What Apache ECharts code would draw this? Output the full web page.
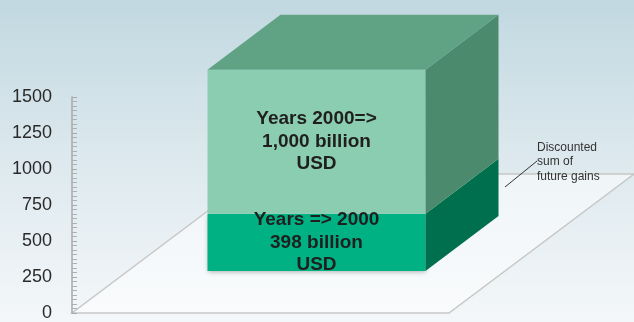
<!DOCTYPE html>
<html>
<head>
<meta charset="utf-8">
<script src="https://cdn.jsdelivr.net/npm/echarts@6/dist/echarts.min.js"></script>
<style>
  html, body { margin: 0; padding: 0; }
  #chart { width: 634px; height: 322px; }
</style>
</head>
<body>
<div id="chart"></div>
<script>
// ---- data ----
const categories = ['Gains'];
const segmentNames = ['Years => 2000', 'Years 2000=>'];
const segmentValues = [398, 1000];
const segmentLabels = ['Years => 2000\n398 billion\nUSD', 'Years 2000=>\n1,000 billion\nUSD'];
const axisMin = 0;
const axisMax = 1500;
const axisInterval = 250;
const noteText = 'Discounted\nsum of\nfuture gains';

// stacked segments: [category, start, end, segment index]
let running = 0;
const boxData = segmentValues.map((v, i) => {
  const start = running;
  running += v;
  return [0, start, running, i];
});

// ---- 3D look ----
const FLOOR_DEPTH = [185, -139];
const BOX_DEPTH = [73, -55];
const BOX_HALF = 109;
const BOX_SHIFT = [(FLOOR_DEPTH[0] - BOX_DEPTH[0]) / 2, (FLOOR_DEPTH[1] - BOX_DEPTH[1]) / 2];

const faceColors = [
  { front: '#00b283', side: '#006f4d', top: '#2f9e78' },
  { front: '#8bcdb0', side: '#4b8a6c', top: '#5fa384' }
];

function renderFloor(params, api) {
  const cs = params.coordSys;
  const y0 = api.coord([0, api.value(1)])[1];
  const x0 = cs.x, x1 = cs.x + cs.width;
  const dx = FLOOR_DEPTH[0], dy = FLOOR_DEPTH[1];
  return {
    type: 'polygon',
    silent: true,
    shape: { points: [[x0, y0], [x1, y0], [x1 + dx, y0 + dy], [x0 + dx, y0 + dy]] },
    style: { fill: 'rgba(255,255,255,0.5)', stroke: '#c8c8c8', lineWidth: 1.5 }
  };
}

function renderBox(params, api) {
  const idx = api.value(3);
  const b = api.coord([api.value(0), api.value(1)]);
  const t = api.coord([api.value(0), api.value(2)]);
  const xl = b[0] - BOX_HALF + BOX_SHIFT[0];
  const xr = b[0] + BOX_HALF + BOX_SHIFT[0];
  const yb = b[1] + BOX_SHIFT[1];
  const yt = t[1] + BOX_SHIFT[1];
  const dx = BOX_DEPTH[0], dy = BOX_DEPTH[1];
  const col = faceColors[idx];
  const children = [
    {
      type: 'polygon',
      shape: { points: [[xl, yb], [xr, yb], [xr, yt], [xl, yt]] },
      style: idx === 0
        ? { fill: col.front, shadowColor: 'rgba(0,0,0,0.35)', shadowBlur: 5, shadowOffsetY: 1 }
        : { fill: col.front }
    },
    {
      type: 'polygon',
      shape: { points: [[xr, yb], [xr + dx, yb + dy], [xr + dx, yt + dy], [xr, yt]] },
      style: { fill: col.side }
    }
  ];
  if (idx === boxData.length - 1) {
    children.push({
      type: 'polygon',
      shape: { points: [[xl, yt], [xr, yt], [xr + dx, yt + dy], [xl + dx, yt + dy]] },
      style: { fill: col.top }
    });
  }
  children.push({
    type: 'text',
    z2: 100,
    x: (xl + xr) / 2,
    y: (yb + yt) / 2,
    style: {
      text: segmentLabels[idx],
      align: 'center',
      verticalAlign: 'middle',
      fontFamily: 'Liberation Sans',
      fontWeight: 'bold',
      fontSize: 19,
      lineHeight: 22.5,
      fill: '#1f1f1f'
    }
  });
  return { type: 'group', children };
}

const chart = echarts.init(document.getElementById('chart'), null, { renderer: 'canvas' });
chart.setOption({
  animation: false,
  backgroundColor: {
    type: 'linear', x: 0, y: 0, x2: 0, y2: 1,
    colorStops: [
      { offset: 0, color: '#c1d8e0' },
      { offset: 0.5, color: '#dde9ee' },
      { offset: 1, color: '#f4f7f9' }
    ]
  },
  grid: { left: 72, top: 97, right: 185, bottom: 7.5, containLabel: false },
  xAxis: {
    type: 'category',
    data: categories,
    show: false
  },
  yAxis: {
    type: 'value',
    min: axisMin,
    max: axisMax,
    interval: axisInterval,
    z: 5,
    axisLine: { show: true, lineStyle: { color: '#a8a8a8', width: 1.5 } },
    axisTick: { show: true, inside: true, length: 5, lineStyle: { color: '#a8a8a8' } },
    minorTick: { show: true, splitNumber: 8, length: 5, lineStyle: { color: '#b0b0b0' } },
    splitLine: { show: false },
    axisLabel: {
      margin: 20, color: '#2a2a2a', fontSize: 18, fontFamily: 'Liberation Sans',
      formatter: (v) => String(v)
    }
  },
  series: [
    {
      name: 'floor',
      type: 'custom',
      z: 1,
      silent: true,
      renderItem: renderFloor,
      data: [[0, axisMin]]
    },
    {
      name: segmentNames.join(' / '),
      type: 'custom',
      z: 3,
      renderItem: renderBox,
      encode: { x: 0, y: [1, 2] },
      data: boxData
    }
  ],
  graphic: [
    {
      type: 'text',
      z: 10,
      left: 537,
      top: 140,
      style: { text: noteText, fontFamily: 'Liberation Sans', fontSize: 12, lineHeight: 14.5, fill: '#333333' }
    },
    {
      type: 'line',
      z: 10,
      shape: { x1: 537, y1: 161, x2: 505, y2: 187 },
      style: { stroke: '#333333', lineWidth: 1 }
    }
  ]
});
</script>
</body>
</html>
